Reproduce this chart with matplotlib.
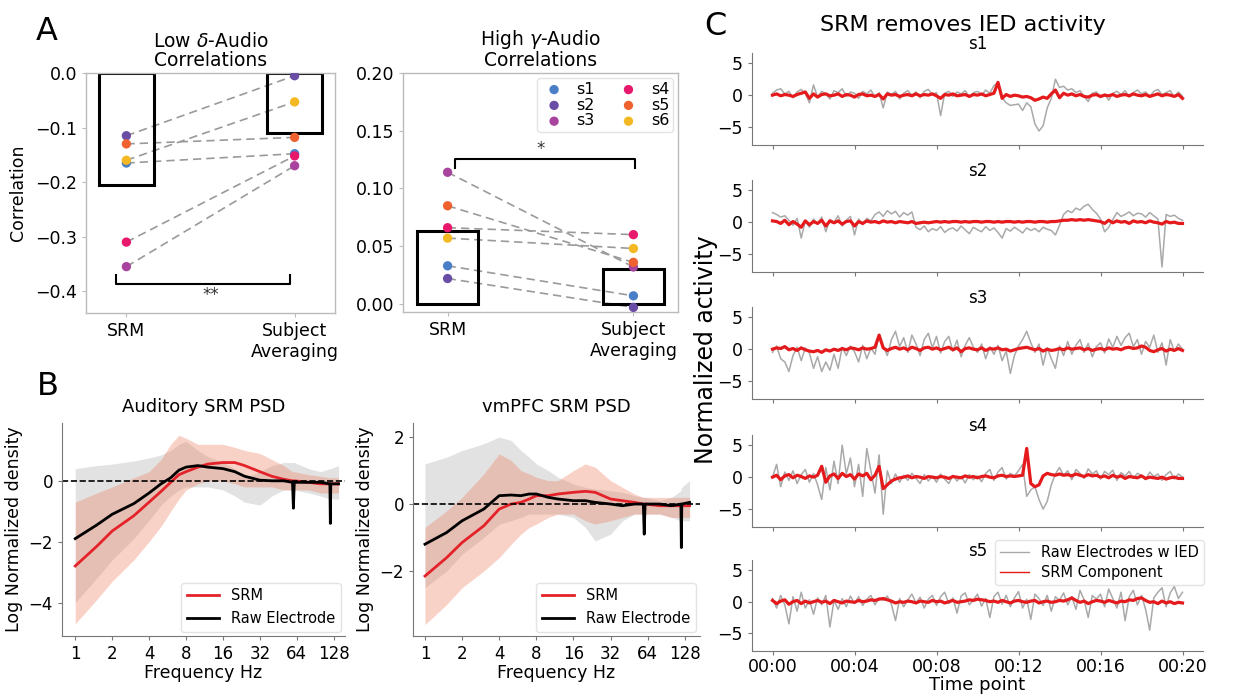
import numpy as np
import matplotlib
matplotlib.use("Agg")
import matplotlib.pyplot as plt
from matplotlib.lines import Line2D

plt.rcParams['font.family'] = ['DejaVu Sans']

############################## data ##############################

subjects = ['s1', 's2', 's3', 's4', 's5', 's6']
subj_colors = ['#4a7ec7', '#6a4ea6', '#a8449e', '#e8186c', '#ef6230', '#f4b822']
conds = ['SRM', 'Subject\nAveraging']

# panel A: per-subject correlations and group bars
delta_srm = [-0.165, -0.115, -0.355, -0.31, -0.13, -0.16]
delta_avg = [-0.148, -0.005, -0.17, -0.152, -0.118, -0.053]
delta_bars = [-0.205, -0.11]

gamma_srm = [0.033, 0.022, 0.114, 0.066, 0.085, 0.057]
gamma_avg = [0.007, -0.003, 0.032, 0.060, 0.036, 0.048]
gamma_bars = [0.063, 0.030]

# panel B: PSDs
psd_freqs = [1, 1.5, 2, 3, 4, 5, 6, 7, 8, 10, 12, 16, 20, 24, 32, 40, 50, 59, 60, 61, 80, 100, 119, 120, 121, 140]

aud_srm = [-2.8, -2.15, -1.65, -1.15, -0.7, -0.35, -0.05, 0.2, 0.3, 0.45, 0.55, 0.6, 0.6, 0.5, 0.3, 0.15, 0.05, 0.0, -0.05, 0.0, -0.05, -0.1, -0.1, -0.15, -0.1, -0.1]
aud_raw = [-1.9, -1.45, -1.1, -0.75, -0.4, -0.1, 0.1, 0.35, 0.45, 0.5, 0.45, 0.4, 0.3, 0.15, 0.02, 0.0, 0.0, -0.05, -0.9, -0.05, -0.05, -0.05, -0.1, -1.4, -0.1, -0.1]
aud_srm_hi = [-0.7, -0.4, -0.2, 0.1, 0.3, 0.7, 1.2, 1.5, 1.4, 1.2, 1.2, 1.2, 1.1, 1.0, 0.9, 0.7, 0.5, 0.3, 0.3, 0.3, 0.2, 0.15, 0.1, 0.1, 0.1, 0.1]
aud_srm_lo = [-4.7, -3.9, -3.3, -2.6, -2.0, -1.5, -1.0, -0.6, -0.3, -0.1, 0.0, 0.0, -0.1, -0.2, -0.2, -0.2, -0.3, -0.3, -0.3, -0.3, -0.3, -0.4, -0.4, -0.4, -0.4, -0.4]
aud_raw_hi = [0.4, 0.5, 0.55, 0.65, 0.75, 0.85, 1.0, 1.2, 1.3, 1.0, 0.8, 0.6, 0.4, 0.1, 0.3, 0.5, 0.6, 0.6, 0.6, 0.6, 0.4, 0.3, 0.4, 0.4, 0.4, 0.5]
aud_raw_lo = [-4.0, -3.2, -2.6, -1.9, -1.3, -0.8, -0.5, -0.3, -0.2, -0.2, -0.2, -0.3, -0.5, -0.7, -0.8, -0.5, -0.3, -0.3, -0.3, -0.3, -0.4, -0.5, -0.6, -0.6, -0.6, -0.6]

vmp_srm = [-2.15, -1.6, -1.15, -0.65, -0.15, 0.0, 0.05, 0.15, 0.25, 0.25, 0.3, 0.35, 0.38, 0.35, 0.15, 0.1, 0.05, 0.0, -0.05, 0.0, -0.05, -0.05, -0.05, -0.1, -0.05, -0.05]
vmp_raw = [-1.2, -0.85, -0.5, -0.15, 0.25, 0.27, 0.25, 0.3, 0.3, 0.2, 0.15, 0.1, 0.1, 0.05, 0.0, -0.05, 0.0, 0.0, -0.9, 0.0, 0.0, -0.05, 0.0, -1.3, 0.0, 0.05]
vmp_srm_hi = [-0.7, -0.2, 0.2, 0.9, 1.5, 1.3, 1.0, 0.9, 0.8, 0.7, 0.7, 1.0, 1.2, 1.1, 0.7, 0.5, 0.3, 0.2, 0.2, 0.2, 0.2, 0.2, 0.2, 0.2, 0.2, 0.2]
vmp_srm_lo = [-3.6, -3.0, -2.5, -2.0, -1.6, -1.2, -0.9, -0.7, -0.6, -0.4, -0.3, -0.3, -0.5, -0.6, -0.5, -0.4, -0.3, -0.3, -0.3, -0.3, -0.3, -0.4, -0.4, -0.4, -0.4, -0.4]
vmp_raw_hi = [1.2, 1.4, 1.6, 1.8, 2.0, 1.9, 1.6, 1.4, 1.2, 1.0, 0.8, 0.6, 0.5, 0.45, 0.4, 0.35, 0.25, 0.2, 0.2, 0.2, 0.1, 0.2, 0.4, 0.5, 0.5, 0.7]
vmp_raw_lo = [-2.5, -2.0, -1.5, -1.0, -0.6, -0.5, -0.4, -0.3, -0.3, -0.3, -0.3, -0.4, -0.7, -1.1, -0.9, -0.5, -0.3, -0.3, -0.3, -0.3, -0.3, -0.4, -0.5, -0.5, -0.5, -0.5]

freq_ticks = [1, 2, 4, 8, 16, 32, 64, 128]

# panel C: time courses (minutes 0..20)
raw_s1 = [0.3, 0.8, 1.0, 0.2, 0.6, -0.4, 0.5, 0.9, 0.3, -1.2,
          1.6, -0.3, 0.6, 0.2, -0.6, 0.7, 0.4, 1.0, -0.2, 0.5,
          0.3, -0.5, 0.6, 0.2, 0.8, -0.3, 0.4, -2.0, 0.5, 0.1,
          0.6, -0.6, 0.3, 0.7, 0.0, 0.5, -0.4, 0.6, 0.9, 0.1,
          0.4, -3.2, 0.3, 0.6, -0.2, 0.5, 0.2, 0.7, -0.3, 0.4,
          0.6, 0.0, 0.8, 0.3, 1.5, 2.0, -0.4, -1.2, -1.6, -1.5,
          -1.4, -2.4, -1.2, -1.8, -4.5, -5.6, -4.8, -2.0, -0.5, 2.5,
          1.2, 1.4, 0.8, 1.0, 0.4, 0.7, -0.2, -1.0, 0.3, 0.5,
          -0.4, 0.2, -0.8, 0.3, 0.6, 0.1, 0.7, -0.3, 0.4, 0.8,
          0.2, 0.5, -0.2, 0.6, 0.9, 0.1, 0.4, 0.7, -0.3, 0.5, -0.2]
srm_s1 = [0.0, 0.2, -0.1, 0.1, 0.0, -0.2, 0.1, 0.3, 0.5, -0.5,
          0.2, -0.3, 0.1, 0.2, -0.1, 0.0, 0.2, -0.2, 0.1, 0.0,
          -0.3, 0.1, 0.2, -0.1, 0.0, -0.2, 0.1, -0.6, 0.2, 0.0,
          0.1, -0.2, 0.0, 0.1, -0.1, 0.2, -0.1, 0.1, 0.0, 0.2,
          -0.1, -0.5, 0.1, 0.0, 0.2, -0.1, 0.0, 0.1, -0.2, 0.1,
          0.0, 0.2, -0.1, 0.1, 0.3, 2.0, -0.5, 0.1, -0.2, 0.0,
          -0.1, -0.3, -0.2, -0.4, -0.8, -0.6, -0.3, -0.5, 0.2, 0.8,
          -0.4, 0.3, 0.0, 0.2, -0.1, 0.1, -0.2, -0.3, 0.0, 0.1,
          -0.2, 0.0, -0.1, 0.1, -0.2, 0.0, 0.1, -0.1, 0.2, 0.0,
          -0.1, 0.1, -0.2, 0.0, 0.2, -0.1, 0.1, 0.0, -0.2, 0.1, -0.5]

raw_s2 = [1.5, 1.2, 0.8, 1.0, 0.3, -0.5, 0.6, -2.5, 0.2, -0.8,
          0.5, -0.3, 0.8, -1.5, 0.4, 0.0, 1.0, -0.6, 0.3, 0.9,
          -2.0, 0.5, -0.4, 0.6, 0.2, 1.2, 1.6, 0.9, 1.8, 1.3,
          1.7, 0.8, 1.5, 1.1, 1.6, -0.8, -1.2, -0.6, -1.5, -1.0,
          -1.3, -0.7, -1.6, -1.1, -0.9, -1.4, -0.6, -1.2, -1.8, -0.8,
          -1.2, -1.5, -0.7, -1.3, -0.9, -1.6, -2.5, -1.0, -1.4, -0.8,
          -1.2, -1.7, -0.9, -1.3, -1.0, -1.5, -0.8, -1.1, -1.3, -2.0,
          -0.5, 1.2, 1.8, 1.5, 2.2, 1.9, 2.5, 2.8, 2.0, 1.4,
          0.5, -1.5, -0.8, 0.4, 1.5, 0.9, 1.2, 1.6, 1.0, 1.4,
          1.3, 0.8, 1.5, 1.0, 0.5, -7.0, 1.2, 0.9, 1.1, 0.6, 0.3]
srm_s2 = [0.2, 0.1, -0.2, 0.3, -0.4, 0.1, -0.3, -0.8, 0.2, -0.4,
          0.1, -0.2, 0.3, -0.6, 0.2, -0.1, 0.2, -0.3, 0.1, 0.2,
          -0.6, 0.1, -0.2, 0.2, 0.0, 0.1, -0.1, 0.2, 0.0, 0.1,
          -0.1, 0.1, 0.0, -0.1, 0.1, -0.2, -0.1, 0.0, -0.1, 0.0,
          0.1, 0.0, 0.1, 0.0, 0.1, 0.1, 0.0, 0.1, 0.0, 0.1,
          0.1, 0.0, 0.1, 0.1, 0.0, 0.1, 0.0, 0.1, 0.1, 0.0,
          0.1, 0.0, 0.1, 0.1, 0.0, 0.1, 0.1, 0.0, 0.1, 0.1,
          0.2, 0.3, 0.3, 0.4, 0.3, 0.4, 0.3, 0.4, 0.3, 0.2,
          0.1, -0.2, 0.3, -0.1, 0.2, 0.0, 0.1, -0.2, 0.2, 0.0,
          0.1, -0.1, 0.2, 0.0, -0.1, -0.3, 0.1, -0.1, 0.0, -0.2, -0.2]

raw_s3 = [-0.5, 0.5, -1.5, -2.0, -3.5, -1.0, 0.3, -1.8, 0.2, -0.6,
          -3.0, -1.2, -3.5, -2.0, -3.3, -0.8, -3.0, 0.3, -1.0, 0.5,
          -0.4, -2.0, 0.6, -1.5, 0.2, -0.8, 2.3, 0.5, -1.0, 1.5,
          2.8, 0.4, 1.8, -0.5, 2.2, 0.8, -1.0, 1.5, 2.5, 0.2,
          2.0, -0.6, 1.2, 2.0, -0.3, 1.4, -1.2, 0.6, 1.8, 0.3,
          -0.5, 0.8, -1.5, 0.4, -0.8, 0.6, -1.8, -0.3, -3.8, -1.0,
          0.5, 1.5, 2.8, 1.0, -0.5, 0.8, -2.5, 0.2, -1.5, -3.0,
          0.5, -1.0, 1.2, -0.8, 0.6, 1.5, -0.5, 0.9, -1.2, 0.4,
          1.0, -0.6, 1.6, 0.3, 2.0, 0.6, 1.8, 2.5, 0.4, 1.5,
          -0.8, 1.2, 0.3, 2.2, -0.5, 1.0, -2.5, 1.5, -0.3, 0.8, 0.0]
srm_s3 = [0.0, 0.2, 0.1, 0.4, -0.1, 0.1, -0.2, 0.2, -0.1, -0.3,
          -0.4, -0.2, -0.5, -0.1, -0.3, 0.0, -0.2, 0.1, -0.1, 0.2,
          0.1, -0.1, 0.2, 0.0, 0.1, 0.3, 2.2, 0.2, -0.2, 0.1,
          0.3, 0.0, 0.2, -0.1, 0.3, 0.1, -0.2, 0.2, 0.3, 0.0,
          0.2, -0.1, 0.1, 0.3, -0.1, 0.2, -0.4, 0.1, 0.2, 0.0,
          -0.1, 0.2, -0.2, 0.1, 0.0, 0.2, -0.1, 0.0, -0.3, -0.1,
          0.1, 0.2, 0.3, 0.1, -0.1, 0.1, -0.3, 0.0, -0.2, -0.1,
          0.1, -0.1, 0.2, 0.0, 0.1, 0.2, -0.1, 0.1, -0.2, 0.0,
          0.1, -0.1, 0.2, 0.0, 0.1, -0.1, 0.2, 0.3, 0.1, 0.2,
          0.5, 0.3, -0.2, -0.4, -0.1, 0.1, -0.3, 0.0, -0.2, 0.1, -0.2]

raw_s4 = [0.0, 2.0, -1.5, 0.8, -0.5, 1.0, -1.0, 0.4, 1.2, -0.8,
          0.6, -1.2, -3.5, 1.5, -2.0, 2.5, -1.0, 5.0, 0.5, 3.0,
          -1.5, 2.0, -3.0, 4.5, 1.0, -2.5, 3.5, -5.8, 1.0, -1.0,
          0.5, -0.8, 0.3, -0.5, 0.6, -0.2, -1.0, 0.4, -0.6, 0.2,
          -0.8, 0.5, -0.3, -1.0, 0.3, -0.6, 0.1, -0.9, 0.4, -0.4,
          0.2, -0.7, 0.6, 1.2, -0.5, 0.8, 1.5, -0.3, 0.6, 0.2,
          1.0, 2.0, -3.0, -2.0, -1.5, -3.5, -5.0, -3.8, -1.2, 0.5,
          1.5, 0.3, 1.0, -0.4, 1.2, 0.6, -0.2, 1.3, 0.5, 1.0,
          -0.3, 0.9, 0.4, 1.1, -0.5, 0.7, 0.2, 0.9, -0.2, 0.6,
          0.3, -0.4, 0.8, 0.1, 0.5, -0.5, 0.4, 0.9, -0.3, 0.5, 0.0]
srm_s4 = [0.0, 0.3, -0.4, 0.2, 0.4, -0.1, 0.3, 0.1, -0.2, 0.2,
          0.0, 0.3, 1.7, -0.8, 0.2, 0.5, -0.2, 0.6, 0.1, 0.4,
          -0.3, 0.5, 0.2, 0.6, -0.4, 0.3, 1.7, -1.8, -1.2, -0.6,
          -0.3, -0.1, 0.0, 0.2, -0.1, 0.1, 0.0, -0.2, 0.1, 0.0,
          -0.1, 0.1, 0.0, -0.2, 0.1, 0.0, -0.1, 0.2, 0.0, 0.1,
          -0.1, 0.1, 0.2, 0.0, -0.1, 0.2, 0.3, 0.1, 0.2, 0.1,
          0.2, 0.3, 4.5, -1.0, -1.5, -1.2, 0.2, 0.6, 0.4, 0.3,
          0.5, 0.3, 0.4, 0.2, 0.5, 0.3, 0.1, 0.4, 0.2, 0.3,
          0.0, 0.2, -0.1, 0.3, 0.0, 0.2, -0.2, 0.1, 0.0, -0.1,
          0.2, -0.2, 0.0, -0.1, -0.2, 0.0, -0.3, -0.1, 0.0, -0.2, -0.2]

raw_s5 = [0.5, -1.0, 1.0, -0.5, -3.5, 0.8, -1.5, 1.5, -1.0, 0.3,
          -2.0, 0.6, -0.5, 1.0, -4.0, 0.2, -1.2, 0.5, -0.8, 0.9,
          -0.3, 0.8, -0.6, 0.4, 1.0, -0.5, 0.6, 0.2, 0.9, -0.4,
          -3.0, 0.5, -0.8, 0.3, 1.2, -0.2, 0.7, -1.0, 0.4, 1.0,
          -0.6, 0.8, 1.5, -0.3, 0.6, -1.8, 0.9, 1.4, -0.5, 0.3,
          1.2, -0.7, 0.5, -2.5, 0.8, 1.5, -0.4, 1.0, -0.8, 0.6,
          1.6, -1.0, 0.4, -2.8, 1.2, 0.5, -0.6, 1.0, -1.5, 0.8,
          0.2, 1.4, -0.5, 0.8, -1.2, 1.8, 0.3, -2.5, 1.0, 0.4,
          1.2, -0.8, 2.0, 0.5, -1.0, 1.5, -3.0, 0.8, 1.8, -0.5,
          1.0, -1.2, -4.5, 0.6, 1.5, 2.2, -0.8, 1.4, 2.4, 0.5, 1.5]
srm_s5 = [0.2, -0.3, 0.1, 0.3, -0.4, 0.0, 0.2, -0.3, 0.1, -0.2,
          0.0, 0.2, -0.1, 0.1, -0.3, 0.2, 0.0, -0.2, 0.1, 0.0,
          -0.1, 0.2, 0.0, 0.1, 0.3, 0.2, 0.4, 0.5, 0.3, 0.1,
          -0.2, 0.0, -0.1, 0.1, 0.0, -0.2, 0.1, 0.0, -0.1, 0.2,
          0.0, 0.1, -0.2, 0.0, 0.2, -0.1, 0.0, 0.1, 0.3, 0.2,
          0.4, 0.3, 0.2, 0.0, 0.1, -0.1, 0.2, 0.0, -0.2, 0.1,
          0.2, 0.0, -0.1, 0.1, 0.2, -0.2, 0.0, 0.1, -0.1, 0.0,
          0.2, 0.1, 0.3, 0.6, 0.2, -0.1, 0.1, -0.3, 0.0, 0.2,
          0.1, -0.1, 0.2, 0.0, -0.2, 0.1, 0.0, 0.3, 0.2, 0.5,
          0.6, 0.2, -0.1, 0.0, -0.3, 0.1, -0.2, 0.0, -0.3, -0.1, -0.2]

raw_traces = [raw_s1, raw_s2, raw_s3, raw_s4, raw_s5]
srm_traces = [srm_s1, srm_s2, srm_s3, srm_s4, srm_s5]
time_ticks = [0, 4, 8, 12, 16, 20]
time_labels = ['00:00', '00:04', '00:08', '00:12', '00:16', '00:20']

############################## figure ##############################

W, H = 1234, 695
fig = plt.figure(figsize=(W / 100, H / 100), dpi=100)


def px_axes(x0, y0, x1, y1):
    # axes from pixel box (top-left origin)
    return fig.add_axes([x0 / W, 1 - y1 / H, (x1 - x0) / W, (y1 - y0) / H])


def corr_panel(ax, srm, avg, bars, title):
    xs = np.arange(len(conds))
    ax.bar(xs, bars, width=0.33, fill=False, edgecolor='black', linewidth=2.2, zorder=2)
    for i in range(len(subjects)):
        ax.plot(xs, [srm[i], avg[i]], ls=(0, (5, 3)), color='#9a9a9a', lw=1.2, zorder=1)
    for i in range(len(subjects)):
        ax.scatter([xs[0], xs[1]], [srm[i], avg[i]], color=subj_colors[i], s=45,
                   zorder=3, label=subjects[i], edgecolors='none')
    ax.set_xticks(xs)
    ax.set_xticklabels(conds, fontsize=12.5)
    ax.set_xlim(-0.24, 1.24)
    ax.set_title(title, fontsize=13.5, pad=5, linespacing=1.0)
    for s in ax.spines.values():
        s.set_color('#bbbbbb')
        s.set_linewidth(1.0)
    ax.tick_params(axis='both', labelsize=12.5, color='#bbbbbb', length=3)
    return xs


# ---- A left
axA1 = px_axes(86, 73, 335, 313)
xs = corr_panel(axA1, delta_srm, delta_avg, delta_bars, 'Low $\\delta$-Audio\nCorrelations')
axA1.set_ylim(-0.44, 0.0)
axA1.set_yticks([0.0, -0.1, -0.2, -0.3, -0.4])
axA1.set_ylabel('Correlation', fontsize=12.5, labelpad=6)
yb = min(delta_srm + delta_avg) - 0.032
axA1.plot([xs[0] - 0.06, xs[0] - 0.06, xs[1] - 0.03, xs[1] - 0.03],
          [yb + 0.016, yb, yb, yb + 0.016], color='black', lw=1.5)
axA1.text((xs[0] + xs[1]) / 2, yb - 0.004, '**', ha='center', va='top', fontsize=12, color='#333333')

# ---- A right
axA2 = px_axes(403, 73, 678, 312)
xs = corr_panel(axA2, gamma_srm, gamma_avg, gamma_bars, 'High $\\gamma$-Audio\nCorrelations')
axA2.set_ylim(-0.007, 0.20)
axA2.set_yticks([0.0, 0.05, 0.10, 0.15, 0.20])
yb = max(gamma_srm + gamma_avg) + 0.0115
axA2.plot([xs[0] + 0.04, xs[0] + 0.04, xs[1] + 0.01, xs[1] + 0.01],
          [yb - 0.0075, yb, yb, yb - 0.0075], color='black', lw=1.5)
axA2.text((xs[0] + xs[1]) / 2, yb + 0.001, '*', ha='center', va='bottom', fontsize=12,
          color='#333333', zorder=10)
axA2.legend(ncol=2, loc='upper right', fontsize=11.5, handlelength=1.6, handletextpad=0.6,
            columnspacing=1.3, labelspacing=0.05, borderpad=0.25, scatterpoints=1,
            borderaxespad=0.3, edgecolor='#dddddd')


# ---- B
def psd_panel(ax, srm, raw, srm_lo, srm_hi, raw_lo, raw_hi, title):
    ax.set_xscale('log', base=2)
    ax.fill_between(psd_freqs, raw_lo, raw_hi, color='#b4b4b4', alpha=0.38, lw=0)
    ax.fill_between(psd_freqs, srm_lo, srm_hi, color='#f08060', alpha=0.35, lw=0)
    ax.plot(psd_freqs, srm, color='#e4222a', lw=2, label='SRM')
    ax.plot(psd_freqs, raw, color='black', lw=2, label='Raw Electrode')
    ax.axhline(0, color='black', ls='--', lw=1.2)
    ax.set_xticks(freq_ticks)
    ax.set_xticklabels([str(f) for f in freq_ticks])
    ax.minorticks_off()
    ax.set_title(title, fontsize=13, pad=8)
    ax.set_xlabel('Frequency Hz', fontsize=12.5, labelpad=1)
    ax.set_ylabel('Log Normalized density', fontsize=12.5)
    for side in ['top', 'right']:
        ax.spines[side].set_visible(False)
    for side in ['left', 'bottom']:
        ax.spines[side].set_color('#777777')
    ax.tick_params(axis='both', labelsize=12, color='#777777', length=3)
    ax.legend(loc='lower right', fontsize=10.5, handlelength=2.2, edgecolor='#dddddd',
              borderaxespad=0.3)


axB1 = px_axes(62, 423, 345, 636)
psd_panel(axB1, aud_srm, aud_raw, aud_srm_lo, aud_srm_hi, aud_raw_lo, aud_raw_hi, 'Auditory SRM PSD')
axB1.set_xlim(0.78, 158)
axB1.set_ylim(-5.1, 1.9)
axB1.set_yticks([-4, -2, 0])

axB2 = px_axes(413, 423, 700, 636)
psd_panel(axB2, vmp_srm, vmp_raw, vmp_srm_lo, vmp_srm_hi, vmp_raw_lo, vmp_raw_hi, 'vmPFC SRM PSD')
axB2.set_xlim(0.80, 170)
axB2.set_ylim(-3.94, 2.42)
axB2.set_yticks([-2, 0, 2])

# ---- C
c_boxes = [(53, 145), (180, 272), (307, 399), (435, 527), (560, 651)]
c_axes = []
for k, (top, bot) in enumerate(c_boxes):
    ax = px_axes(752, top, 1203, bot)
    raw = raw_traces[k]
    srm = srm_traces[k]
    ax.plot(np.linspace(0, 20, len(raw)), raw, color='#a9a9a9', lw=1.1)
    ax.plot(np.linspace(0, 20, len(srm)), srm, color='#e41a1c', lw=2.3)
    ax.set_ylim(-7.8, 6.6)
    ax.set_yticks([-5, 0, 5])
    ax.set_xticks(time_ticks)
    if k < len(c_boxes) - 1:
        ax.set_xticklabels([])
    else:
        ax.set_xticklabels(time_labels)
        ax.set_xlabel('Time point', fontsize=13, labelpad=0)
    ax.set_title(subjects[k], fontsize=12, pad=3)
    for side in ['top', 'right']:
        ax.spines[side].set_visible(False)
    for side in ['left', 'bottom']:
        ax.spines[side].set_color('#777777')
    ax.tick_params(axis='both', labelsize=12.5, color='#777777', length=3)
    ax.tick_params(axis='x', pad=2)
    c_axes.append(ax)

c_handles = [Line2D([], [], color='#a9a9a9', lw=1), Line2D([], [], color='#e41a1c', lw=1)]
c_axes[-1].legend(c_handles, ['Raw Electrodes w IED', 'SRM Component'], loc='upper right',
                  bbox_to_anchor=(1211 / W, 1 - 533 / H), bbox_transform=fig.transFigure,
                  fontsize=10.5, handlelength=2.0, edgecolor='#dddddd', borderpad=0.35,
                  labelspacing=0.3)

fig.text(963 / W, 1 - 25 / H, 'SRM removes IED activity', ha='center', va='center', fontsize=16)
fig.text(706 / W, 1 - 350 / H, 'Normalized activity', rotation=90, ha='center', va='center', fontsize=17)

# panel letters
fig.text(36 / W, 1 - 40 / H, 'A', fontsize=23, va='baseline')
fig.text(37 / W, 1 - 395 / H, 'B', fontsize=23, va='baseline')
fig.text(704 / W, 1 - 35 / H, 'C', fontsize=23, va='baseline')

fig.savefig('out.png', dpi=100)
